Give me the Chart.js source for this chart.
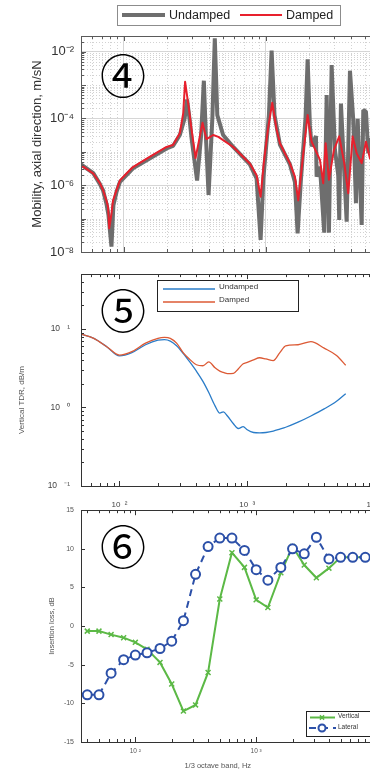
<!DOCTYPE html>
<html><head><meta charset="utf-8">
<script src="https://cdn.jsdelivr.net/npm/chart.js@4.4.0/dist/chart.umd.min.js"></script>
<style>
html,body{margin:0;padding:0;background:#fff;}
#wrap{position:relative;width:370px;height:770px;overflow:hidden;background:#fff;}
canvas{position:absolute;left:0;}
.num{position:absolute;font-family:"Noto Sans CJK JP","DejaVu Sans",sans-serif;font-size:46px;line-height:46px;color:#000;transform:translate(-50%,-50%);}
</style></head><body>
<div id="wrap">
<canvas id="c4" width="420" height="267" style="top:0px"></canvas>
<canvas id="c5" width="420" height="262" style="top:258px"></canvas>
<canvas id="c6" width="420" height="271" style="top:499px"></canvas>
<div class="num" style="left:123px;top:73px">④</div>
<div class="num" style="left:123px;top:308px">⑤</div>
<div class="num" style="left:123px;top:544px">⑥</div>
</div>
<script>
// ---------- Panel ④ : mobility, axial direction (m/sN) ----------
const mobFreqUndamped = [50,61,67.8,71.5,75.5,78,81.9,84.5,88.9,94,104.5,116,152,200,222,248,268,279,290,300,328,350,366,378,395,420,437,455,500,589,771,860,918,960,1050,1097,1150,1255,1476,1600,1672,1760,1900,1967,2040,2098,2250,2275,2401,2574,2677,2778,2902,3061,3229,3282,3374,3701,3905,4119,4303,4424,4721,4845,5061,5253,5400,5857];
const mobUndamped = [4.2e-6,2.3e-6,1.1e-6,7.0e-7,2.8e-7,1.3e-7,1.45e-8,2.5e-7,6.3e-7,1.26e-6,2.0e-6,3.2e-6,6.3e-6,1.26e-5,1.5e-5,3.2e-5,1.0e-4,3.7e-4,1.0e-4,2.5e-5,1.38e-6,3.0e-5,1.35e-3,3.2e-5,5.1e-7,1.0e-4,2.5e-2,1.26e-4,3.2e-5,1.4e-5,4.2e-6,1.6e-6,2.3e-8,1.6e-6,1.26e-4,1.07e-2,1.26e-4,1.66e-5,4.2e-6,1.26e-6,3.6e-8,1.26e-6,1.0e-4,5.9e-3,6.3e-5,1.45e-5,3.0e-5,1.8e-6,3.6e-6,3.8e-8,5.0e-4,3.8e-8,4.0e-3,1.15e-5,2.0e-6,9.1e-8,2.8e-4,8.1e-8,2.7e-3,9.1e-5,2.9e-7,9.8e-5,6.5e-8,1.8e-4,1.6e-4,9.1e-6,2.5e-5,1.0e-5];
const mobFreqDamped = [50,61,67.8,71.5,75.5,77.5,79,81.9,84,88.9,94,104.5,116,152,200,222,248,262,270,284,300,320,358,382,426,463,589,771,860,918,967,1033,1108,1190,1255,1476,1600,1689,1823,1967,2098,2401,2532,2633,2778,3012,3282,3559,3798,4079,4352,4721,5061,5400,5857];
const mobDamped = [3.98e-6,2.24e-6,1.17e-6,7.1e-7,3.5e-7,2.24e-7,5.1e-8,1.4e-7,3.5e-7,7.1e-7,1.4e-6,2.24e-6,3.5e-6,7.1e-6,1.4e-5,1.6e-5,3.6e-5,1.45e-4,1.26e-3,2.8e-4,4.6e-5,6.5e-6,7.4e-5,2.4e-5,3.2e-5,2.8e-5,1.4e-5,4.5e-6,2.0e-6,4.5e-7,4.7e-6,4.6e-5,2.95e-4,4.6e-5,1.8e-5,4.5e-6,1.8e-6,3.5e-7,7.2e-6,1.26e-4,2.0e-5,5.75e-6,1.15e-6,1.8e-5,1.45e-6,1.15e-5,2.9e-5,4.6e-6,5.75e-7,2.9e-5,9.1e-6,4.6e-6,2.0e-5,6.3e-6,1.0e-5];
const mobTickDecades = [-8,-6,-4,-2];

// ---------- Panel ⑤ : vertical track decay rate (dB/m) ----------
const tdrFreq = [50,63,80,100,125,160,200,225,250,280,315,355,400,450,500,560,610,650,700,780,850,930,1000,1120,1250,1400,1600,1800,2000,2500,3150,4000,5000,5900];
const tdrUndamped = [8.6,7.6,5.9,4.55,5.0,6.3,7.2,7.3,7.0,6.1,4.9,3.8,2.9,2.15,1.55,1.05,0.85,0.88,0.78,0.62,0.54,0.57,0.52,0.48,0.475,0.48,0.50,0.53,0.56,0.65,0.78,0.96,1.2,1.5];
const tdrDamped = [8.6,7.6,5.9,4.65,5.15,6.6,7.6,7.8,7.6,6.6,5.0,4.1,3.5,3.4,3.8,3.2,2.9,2.8,2.7,2.72,3.1,3.6,3.75,4.05,4.3,4.15,3.95,5.0,6.1,6.3,6.9,5.7,4.6,3.45];
const tdrTickDecades = [-1,0,1];

// ---------- Panel ⑥ : insertion loss (dB) ----------
const bands = [40,50,63,80,100,125,160,200,250,315,400,500,630,800,1000,1250,1600,2000,2500,3150,4000,5000,6300,8000];
const ilVertical = [-0.65,-0.65,-1.1,-1.5,-2.1,-3.0,-4.7,-7.5,-11.0,-10.2,-6.0,3.5,9.5,7.6,3.4,2.4,6.9,10.3,7.9,6.25,7.5,8.9,8.9,8.9];
const ilLateral = [-8.9,-8.9,-6.1,-4.35,-3.75,-3.45,-2.9,-1.95,0.7,6.7,10.3,11.4,11.4,9.8,7.3,5.95,7.6,10.0,9.35,11.5,8.7,8.9,8.9,8.9];
const freqTickDecades = [2,3,4];

// ---------- helpers ----------
const SUP = {'-':'⁻','0':'⁰','1':'¹','2':'²','3':'³','4':'⁴','5':'⁵','6':'⁶','7':'⁷','8':'⁸','9':'⁹'};
const sup = e => String(e).split('').map(c=>SUP[c]).join('');
const pairs = (xs, ys) => xs.map((x,i)=>({x:x, y:ys[i]}));
function logSteps(lo, hi){
  const out=[];
  for(let e=Math.floor(Math.log10(lo)); e<=Math.ceil(Math.log10(hi)); e++){
    for(let m=1;m<=9;m++){ const v=m*Math.pow(10,e); if(v>=lo*0.999 && v<=hi*1.001) out.push(v); }
  }
  return out;
}
const isDecade = v => Math.abs(Math.log10(v)-Math.round(Math.log10(v)))<1e-6;

const decor = {
  id:'decor',
  beforeDatasetsDraw(chart, args, o){
    if(!o || !o.minorGrid) return;
    const {ctx, chartArea:a, scales} = chart, g=o.minorGrid;
    ctx.save();
    ctx.strokeStyle=g.color; ctx.lineWidth=1; ctx.setLineDash(g.dash);
    (g.x||[]).forEach(v=>{ const p=Math.round(scales.x.getPixelForValue(v))+0.5; ctx.beginPath(); ctx.moveTo(p,a.top); ctx.lineTo(p,a.bottom); ctx.stroke(); });
    (g.y||[]).forEach(v=>{ const p=Math.round(scales.y.getPixelForValue(v))+0.5; ctx.beginPath(); ctx.moveTo(a.left,p); ctx.lineTo(a.right,p); ctx.stroke(); });
    ctx.restore();
  },
  afterDatasetsDraw(chart, args, o){
    if(!o) return;
    const {ctx, chartArea:a, scales} = chart;
    ctx.save();
    if(o.frame){
      ctx.strokeStyle=o.frame.color; ctx.lineWidth=1; ctx.setLineDash([]);
      ctx.strokeRect(Math.round(a.left)+0.5, Math.round(a.top)+0.5, Math.round(a.right-a.left), Math.round(a.bottom-a.top));
    }
    if(o.ticks){
      const t=o.ticks; ctx.strokeStyle=t.color; ctx.lineWidth=1;
      (t.x||[]).forEach(([v,len])=>{
        const p=Math.round(scales.x.getPixelForValue(v))+0.5;
        ctx.beginPath(); ctx.moveTo(p,a.top); ctx.lineTo(p,a.top+len); ctx.moveTo(p,a.bottom); ctx.lineTo(p,a.bottom-len); ctx.stroke();
      });
      (t.y||[]).forEach(([v,len])=>{
        const p=Math.round(scales.y.getPixelForValue(v))+0.5;
        ctx.beginPath(); ctx.moveTo(a.left,p); ctx.lineTo(a.left+len,p); ctx.stroke();
      });
    }
    if(o.legend){
      const L=o.legend;
      ctx.strokeStyle=L.boxColor; ctx.lineWidth=1; ctx.setLineDash([]);
      ctx.strokeRect(L.box[0]+0.5,L.box[1]+0.5,L.box[2],L.box[3]);
      L.items.forEach(it=>{
        const ds=chart.data.datasets[it.ds];
        ctx.save();
        ctx.strokeStyle=ds.borderColor; ctx.lineWidth=it.lw||ds.borderWidth; ctx.setLineDash(ds.borderDash||[]);
        ctx.beginPath(); ctx.moveTo(it.x0,it.y); ctx.lineTo(it.x1,it.y); ctx.stroke();
        ctx.setLineDash([]);
        if(it.marker){
          ctx.fillStyle=ds.pointBackgroundColor||ds.borderColor; ctx.strokeStyle=ds.borderColor; ctx.lineWidth=ds.pointBorderWidth||1;
          Chart.helpers.drawPoint(ctx,{pointStyle:ds.pointStyle,radius:it.r||ds.pointRadius,borderWidth:ds.pointBorderWidth||1,rotation:0},it.mx,it.y);
        }
        ctx.restore();
        ctx.fillStyle=L.textColor; ctx.font=L.font; ctx.textBaseline='middle'; ctx.textAlign='left';
        ctx.fillText(ds.label,it.tx,it.ty);
      });
    }
    ctx.restore();
  }
};
Chart.register(decor);

const base = {responsive:false, animation:false, events:[], plugins:{legend:{display:false}, tooltip:{enabled:false}}};
const FONT = '"Liberation Sans", Arial, sans-serif';

// ---------- Chart ④ ----------
const yMajor4 = mobTickDecades.map(e=>Math.pow(10,e));
const ySteps4 = logSteps(1e-8, 0.0295);
const xSteps4 = logSteps(50, 10000);
new Chart(document.getElementById('c4'), {
  type:'line',
  data:{datasets:[
    {label:'Undamped', data:pairs(mobFreqUndamped, mobUndamped), borderColor:'#6e6e6e', borderWidth:4, pointRadius:0, tension:0, order:2, borderJoinStyle:'bevel'},
    {label:'Damped', data:pairs(mobFreqDamped, mobDamped), borderColor:'#e8202d', borderWidth:2, pointRadius:0, tension:0, order:1, borderJoinStyle:'round'}
  ]},
  options:Object.assign({}, base, {
    layout:{padding:{top:36,right:12,left:0,bottom:0}},
    plugins:Object.assign({}, base.plugins, {decor:{
      minorGrid:{color:'#d2d2d2', dash:[1,2], x:xSteps4.filter(v=>!isDecade(v)), y:ySteps4.filter(v=>!(isDecade(v) && Math.round(Math.log10(v))%2===0))},
      frame:{color:'#5a5a5a'},
      ticks:{color:'#5a5a5a', x:xSteps4.map(v=>[v,isDecade(v)?5:3]), y:ySteps4.map(v=>[v,isDecade(v)?5:3])},
      legend:{box:[117,5,223,20], boxColor:'#8c8c8c', textColor:'#222', font:'12.5px '+FONT,
        items:[{ds:0,x0:122,x1:165,y:15,tx:169,ty:15.5},{ds:1,x0:240,x1:282,y:15,tx:286,ty:15.5}]}
    }}),
    scales:{
      x:{type:'logarithmic', min:50, max:10000, afterFit(s){s.height=15;},
         afterBuildTicks(s){ s.ticks=[100,1000,10000].map(v=>({value:v})); },
         ticks:{display:false}, grid:{color:'#d6d6d6', drawTicks:false}, border:{display:false}},
      y:{type:'logarithmic', min:1e-8, max:0.0295, afterFit(s){s.width=81;},
         afterBuildTicks(s){ s.ticks=yMajor4.map(v=>({value:v})); },
         ticks:{autoSkip:false, padding:7, color:'#333', font:{family:FONT, size:13},
           callback:v=>'10'+sup(Math.round(Math.log10(v)))},
         grid:{color:'#d6d6d6', drawTicks:false}, border:{display:false},
         title:{display:true, text:'Mobility, axial direction, m/sN', color:'#333', font:{family:FONT, size:13}, padding:{top:30,bottom:0}}}
    }
  })
});

// ---------- Chart ⑤ ----------
const xSteps5 = logSteps(50, 10000);
const ySteps5 = logSteps(0.1, 50);
new Chart(document.getElementById('c5'), {
  type:'line',
  data:{datasets:[
    {label:'Undamped', data:pairs(tdrFreq, tdrUndamped), borderColor:'#2a7cc8', borderWidth:1.3, pointRadius:0, cubicInterpolationMode:'monotone', order:2},
    {label:'Damped', data:pairs(tdrFreq, tdrDamped), borderColor:'#dc5a35', borderWidth:1.3, pointRadius:0, cubicInterpolationMode:'monotone', order:1}
  ]},
  options:Object.assign({}, base, {
    layout:{padding:{top:16.1,right:45,left:0,bottom:0}},
    plugins:Object.assign({}, base.plugins, {decor:{
      frame:{color:'#333'},
      ticks:{color:'#333', x:xSteps5.map(v=>[v,isDecade(v)?5:3]), y:ySteps5.map(v=>[v,isDecade(v)?5:3])},
      legend:{box:[157,22,141,31], boxColor:'#222', textColor:'#333', font:'8px '+FONT,
        items:[{ds:0,x0:163,x1:215,y:31,lw:1.6,tx:219,ty:29},{ds:1,x0:163,x1:215,y:44,lw:1.6,tx:219,ty:42}]}
    }}),
    scales:{
      x:{type:'logarithmic', min:50, max:10000, afterFit(s){s.height=262-228;},
         afterBuildTicks(s){ s.ticks=freqTickDecades.map(e=>({value:Math.pow(10,e)})); },
         ticks:{autoSkip:false, maxRotation:0, padding:14, color:'#444', font:{family:FONT, size:8},
           callback:v=>'10  '+sup(Math.round(Math.log10(v)))},
         grid:{display:false, drawTicks:false}, border:{display:false}},
      y:{type:'logarithmic', min:0.1, max:50, afterFit(s){s.width=81;},
         afterBuildTicks(s){ s.ticks=tdrTickDecades.map(e=>({value:Math.pow(10,e)})); },
         ticks:{autoSkip:false, padding:11, color:'#444', font:{family:FONT, size:8.5},
           callback:v=>'10   '+sup(Math.round(Math.log10(v)))},
         grid:{display:false, drawTicks:false}, border:{display:false},
         title:{display:true, text:'Vertical TDR, dB/m\u2003\u2003\u2003\u2003\u2003', color:'#555', font:{family:FONT, size:8}, padding:{top:17,bottom:0}}}
    }
  })
});

// ---------- Chart ⑥ ----------
const xSteps6 = logSteps(35.5, 10000);
new Chart(document.getElementById('c6'), {
  type:'line',
  data:{datasets:[
    {label:'Vertical', data:pairs(bands, ilVertical), borderColor:'#5cb946', borderWidth:2, tension:0, pointStyle:'crossRot', pointRadius:3.5, pointBorderWidth:1.5, pointBackgroundColor:'#5cb946', order:2},
    {label:'Lateral', data:pairs(bands, ilLateral), borderColor:'#2c50a8', borderWidth:2, borderDash:[7,5], tension:0, pointStyle:'circle', pointRadius:4.5, pointBorderWidth:2, pointBackgroundColor:'#ffffff', order:1}
  ]},
  options:Object.assign({}, base, {
    layout:{padding:{top:11.2,right:43,left:0,bottom:0}},
    plugins:Object.assign({}, base.plugins, {decor:{
      frame:{color:'#333'},
      ticks:{color:'#333', x:xSteps6.map(v=>[v,isDecade(v)?5:3]), y:[-15,-10,-5,0,5,10,15].map(v=>[v,4])},
      legend:{box:[306,212,80,25], boxColor:'#222', textColor:'#333', font:'6.5px '+FONT,
        items:[{ds:0,x0:310,x1:335,y:218.5,mx:322,marker:true,r:3,tx:338,ty:217},{ds:1,x0:309,x1:336,y:229,mx:322,marker:true,r:3.5,tx:338,ty:228}]}
    }}),
    scales:{
      x:{type:'logarithmic', min:35.5, max:10000, afterFit(s){s.height=271-243;},
         afterBuildTicks(s){ s.ticks=freqTickDecades.map(e=>({value:Math.pow(10,e)})); },
         ticks:{autoSkip:false, maxRotation:0, padding:5, color:'#555', font:{family:FONT, size:6.5},
           callback:v=>'10 '+sup(Math.round(Math.log10(v)))},
         grid:{display:false, drawTicks:false}, border:{display:false},
         title:{display:true, text:'1/3 octave band, Hz\u2003\u2003\u2003', color:'#555', font:{family:FONT, size:7.5}, padding:{top:0,bottom:0}}},
      y:{min:-15, max:15, afterFit(s){s.width=81;},
         ticks:{stepSize:5, autoSkip:false, padding:7, color:'#555', font:{family:FONT, size:7}},
         grid:{display:false, drawTicks:false}, border:{display:false},
         title:{display:true, text:'Insertion loss, dB', color:'#555', font:{family:FONT, size:7.5}, padding:{top:47.5,bottom:0}}}
    }
  })
});
</script>
</body></html>
